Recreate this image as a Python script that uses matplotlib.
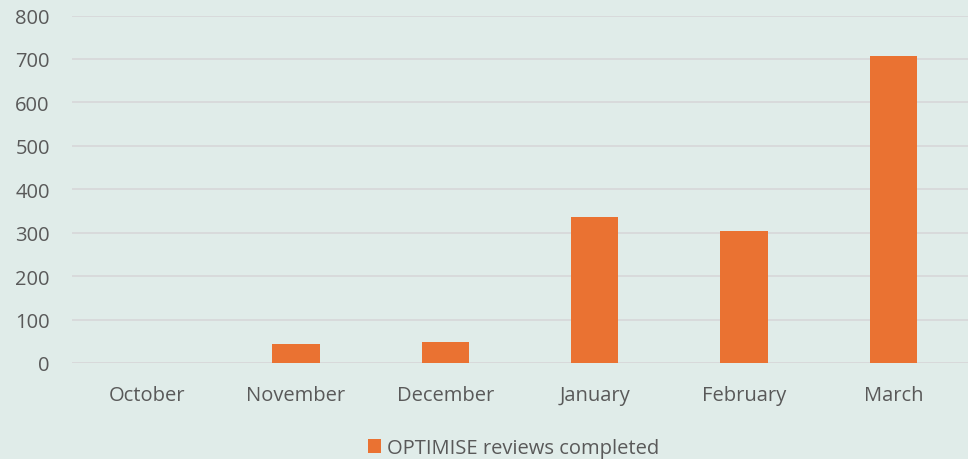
import matplotlib.pyplot as plt

months = ["October", "November", "December", "January", "February", "March"]
reviews = [0, 44, 48, 335, 303, 706]
y_ticks = [0, 100, 200, 300, 400, 500, 600, 700, 800]

bg = "#E0ECE9"
text_col = "#595959"
bar_col = "#EA7232"
grid_col = "#D8D9DA"

plt.rcParams["font.family"] = ["Open Sans", "DejaVu Sans"]

fig = plt.figure(figsize=(9.68, 4.6), dpi=100, facecolor=bg)
ax = fig.add_axes([72 / 968, 1 - 364 / 460, 896 / 968, (364 - 16.5) / 460])
ax.set_facecolor(bg)

x = range(len(months))
ax.bar(x, reviews, width=0.315, color=bar_col, label="OPTIMISE reviews completed", zorder=3)

ax.set_xlim(-0.5, len(months) - 0.5)
ax.set_ylim(0, 800)
ax.set_yticks(y_ticks)
ax.set_xticks(list(x))
ax.set_xticklabels(months)
ax.grid(axis="y", color=grid_col, linewidth=1.3, zorder=0)
ax.set_axisbelow(True)
for s in ax.spines.values():
    s.set_visible(False)
ax.tick_params(axis="both", length=0, labelsize=14.5, labelcolor=text_col)
ax.tick_params(axis="x", pad=16)
ax.tick_params(axis="y", pad=16)
ax.axhline(0, color=grid_col, linewidth=1.3, zorder=1)

fig.legend(loc="center", bbox_to_anchor=(514 / 968, 1 - 449 / 460), frameon=False,
           fontsize=14.5, labelcolor=text_col, handlelength=0.65, handleheight=0.65,
           handletextpad=0.3)

fig.savefig("out.png", facecolor=bg)
